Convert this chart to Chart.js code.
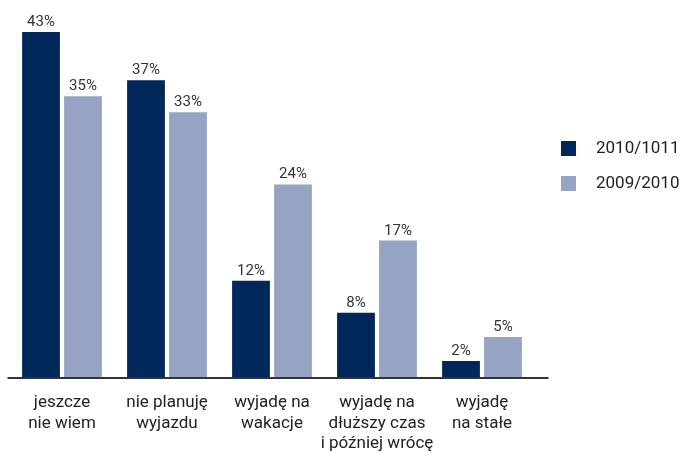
<!DOCTYPE html>
<html>
<head>
<meta charset="utf-8">
<script src="https://cdn.jsdelivr.net/npm/chart.js@4"></script>
<style>
  html, body { margin: 0; padding: 0; background: #fff; }
  #wrap { position: relative; width: 681px; height: 453px; }
  canvas { position: absolute; left: 0; top: 0; }
  #legend { position: absolute; left: 561px; top: 132px; font-family: "Roboto", sans-serif; font-size: 17px; color: #222; }
  .item { position: relative; height: 35px; }
  .sw { position: absolute; left: 0; top: 9px; width: 15px; height: 15px; }
  .tx { position: absolute; left: 35px; top: 5px; white-space: nowrap; }
</style>
</head>
<body>
<div id="wrap">
  <canvas id="c" width="681" height="453"></canvas>
  <div id="legend"></div>
</div>
<script>
const categories = [
  ["jeszcze", "nie wiem"],
  ["nie planuję", "wyjazdu"],
  ["wyjadę na", "wakacje"],
  ["wyjadę na", "dłuższy czas", "i później wrócę"],
  ["wyjadę", "na stałe"]
];
const seriesNames = ["2010/1011", "2009/2010"];
const values2010 = [43, 37, 12, 8, 2];
const values2009 = [35, 33, 24, 17, 5];
const colors = ["#00285a", "#96a3c2"];

const FONT = '"Roboto", sans-serif';

const valueLabels = {
  id: 'valueLabels',
  afterDatasetsDraw(chart) {
    const ctx = chart.ctx;
    ctx.save();
    ctx.font = '15px ' + FONT;
    ctx.fillStyle = '#333';
    ctx.textAlign = 'center';
    ctx.textBaseline = 'alphabetic';
    chart.data.datasets.forEach((ds, i) => {
      chart.getDatasetMeta(i).data.forEach((bar, j) => {
        ctx.fillText(ds.data[j] + '%', bar.x, bar.y - 6);
      });
    });
    ctx.restore();
  }
};

const axisLine = {
  id: 'axisLine',
  afterDatasetsDraw(chart) {
    const ctx = chart.ctx;
    const a = chart.chartArea;
    const y = chart.scales.y.getPixelForValue(0);
    ctx.save();
    ctx.strokeStyle = '#333';
    ctx.lineWidth = 2;
    ctx.beginPath();
    ctx.moveTo(a.left - 2, y + 1);
    ctx.lineTo(a.right + 14, y + 1);
    ctx.stroke();
    ctx.restore();
  }
};

const chart = new Chart(document.getElementById('c'), {
  type: 'bar',
  data: {
    labels: categories,
    datasets: [
      { label: seriesNames[0], data: values2010, backgroundColor: colors[0] },
      { label: seriesNames[1], data: values2009, backgroundColor: colors[1] }
    ]
  },
  options: {
    responsive: false,
    animation: false,
    devicePixelRatio: 1,
    layout: { padding: { left: 9.5, right: 146.5, top: 16, bottom: 0 } },
    datasets: { bar: { categoryPercentage: 0.8, barPercentage: 0.9 } },
    plugins: { legend: { display: false }, tooltip: { enabled: false } },
    scales: {
      x: {
        grid: { display: false, drawTicks: false },
        border: { display: false },
        afterFit(scale) { scale.height = 76; },
        ticks: { color: '#222', font: { family: FONT, size: 17, lineHeight: 1.2 }, padding: 16, maxRotation: 0, autoSkip: false }
      },
      y: { display: false, min: 0, max: 45 }
    }
  },
  plugins: [valueLabels, axisLine]
});

const legend = document.getElementById('legend');
chart.data.datasets.forEach(ds => {
  const item = document.createElement('div');
  item.className = 'item';
  const sw = document.createElement('div');
  sw.className = 'sw';
  sw.style.background = ds.backgroundColor;
  const tx = document.createElement('div');
  tx.className = 'tx';
  tx.textContent = ds.label;
  item.appendChild(sw); item.appendChild(tx);
  legend.appendChild(item);
});
</script>
</body>
</html>
